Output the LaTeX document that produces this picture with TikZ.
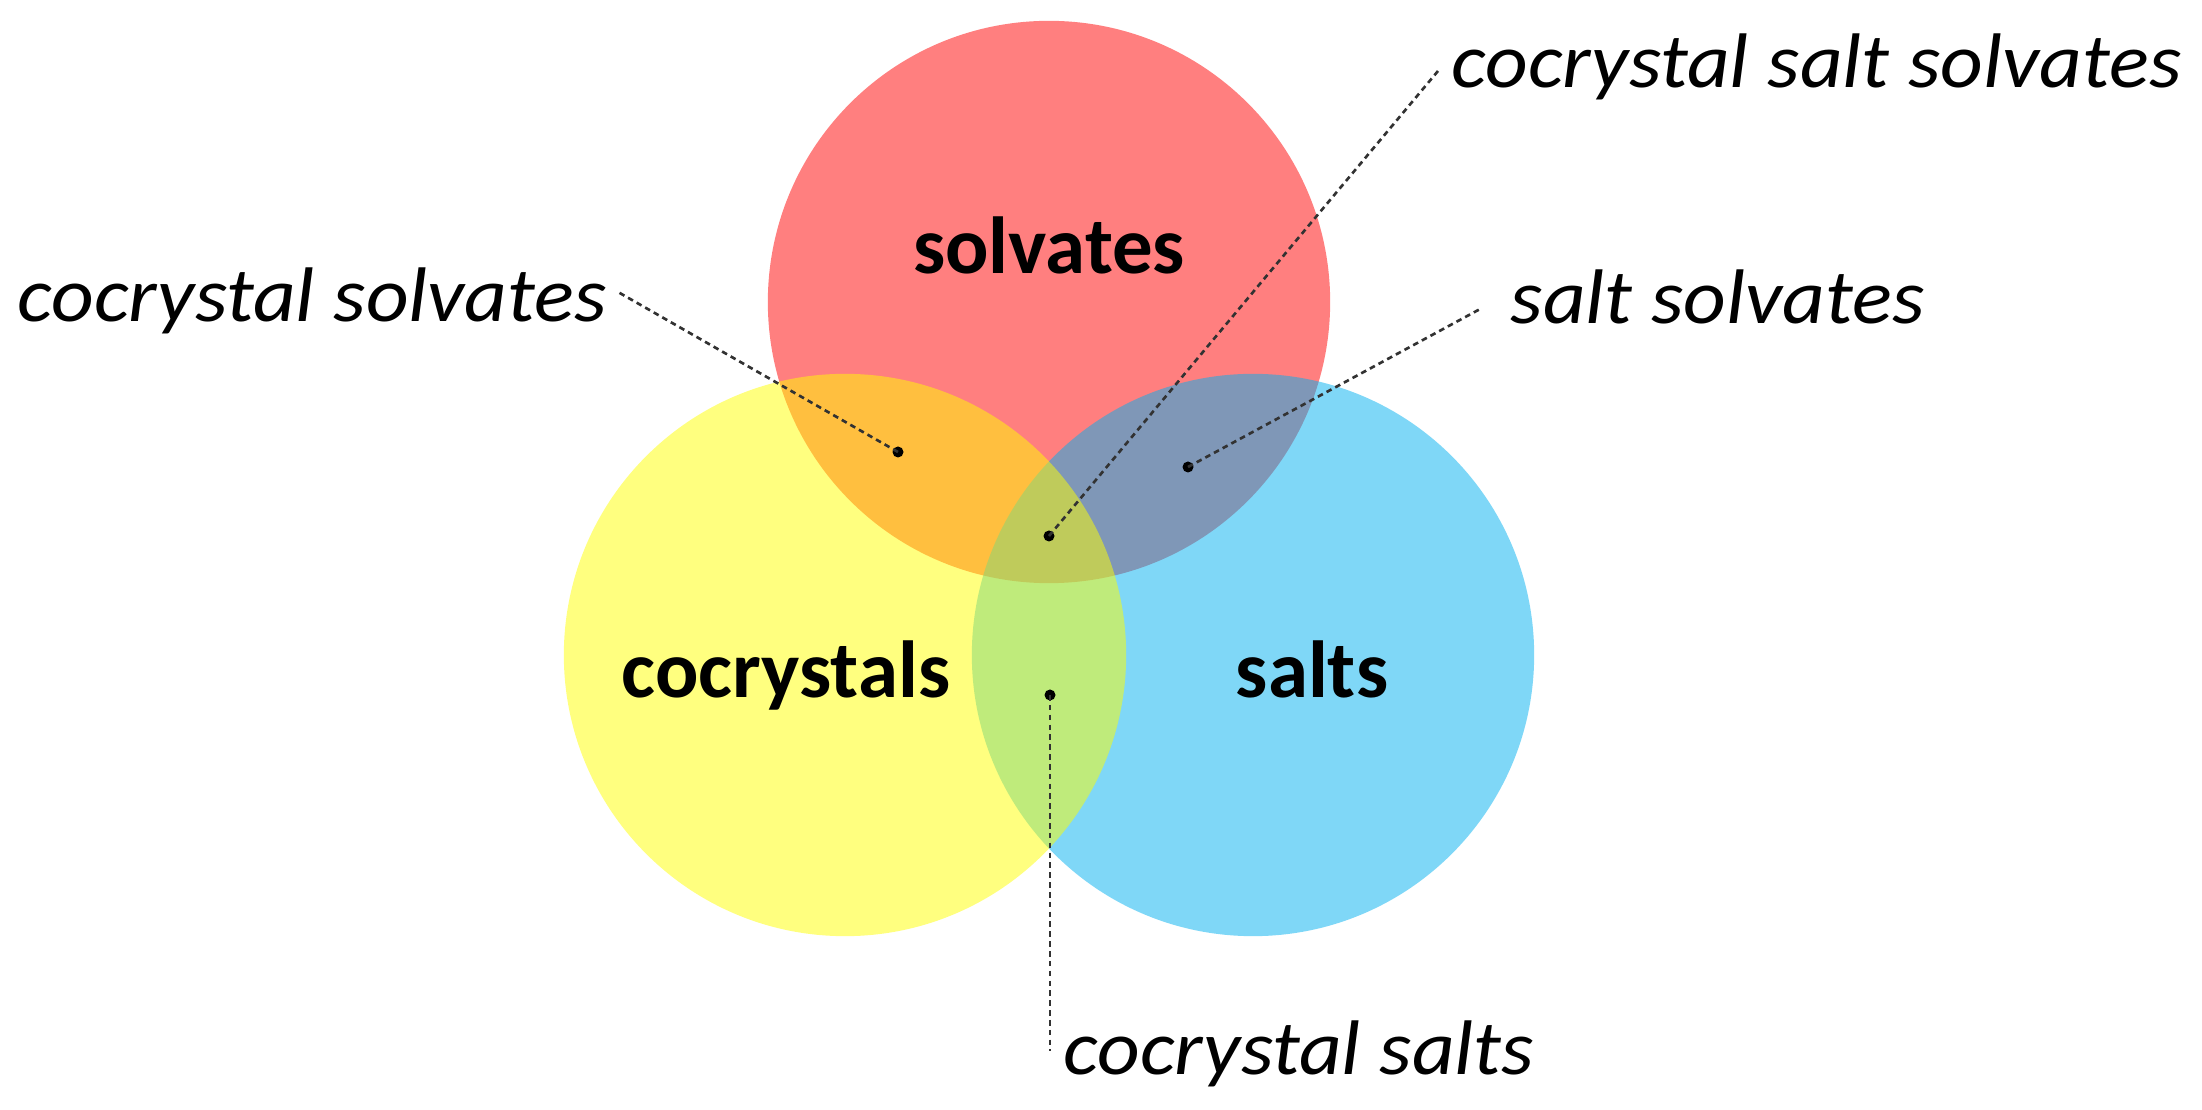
\documentclass[tikz,border=0pt]{standalone}
\usepackage{fontspec}
\setmainfont{Carlito}
\newfontfamily\labfont[FakeStretch=1.075]{Carlito}
\definecolor{cred}{RGB}{255,0,0}
\definecolor{cblue}{RGB}{0,176,240}
\definecolor{cyell}{RGB}{255,255,0}
\definecolor{leadc}{RGB}{50,50,50}
\begin{document}
\begin{tikzpicture}[x=0.01cm,y=-0.01cm,
  setcircle/.style={fill opacity=0.5, draw=none},
  biglabel/.style={font=\fontsize{23}{27}\selectfont\bfseries, inner sep=0pt, anchor=base},
  smalllabel/.style={font=\labfont\fontsize{22}{26}\selectfont\itshape, inner sep=0pt},
  leader/.style={draw=leadc, line width=0.75pt, dash pattern=on 1.6pt off 1.2pt},
  dotmark/.style={circle, fill=black, inner sep=0pt, minimum size=0.11cm}]
\fill[white] (0,0) rectangle (2202,1110);
\useasboundingbox (0,0) rectangle (2202,1110);
% circles
\fill[cred, setcircle] (1049,302) circle[radius=2.81cm];
\fill[cblue, setcircle] (1253,655) circle[radius=2.81cm];
\fill[cyell, setcircle] (845,655) circle[radius=2.81cm];
% main labels
\node[biglabel] (solv) at (1049,274) {solvates};
\node[biglabel] (cocr) at (786,698) {cocrystals};
\node[biglabel] (salt) at (1312,698) {salts};
% outer labels
\node[smalllabel, anchor=base west] (ls) at (17,322) {cocrystal solvates};
\node[smalllabel, anchor=base west] (lss) at (1510,324) {salt solvates};
\node[smalllabel, anchor=base west] (lcss) at (1451,88) {cocrystal salt solvates};
\node[smalllabel, anchor=base west] (lcs) at (1063,1075) {cocrystal salts};
% dots
\node[dotmark] (d1) at (898,452) {};
\node[dotmark] (d2) at (1188,467) {};
\node[dotmark] (d3) at (1049,536) {};
\node[dotmark] (d4) at (1050,695) {};
% leader ends
\coordinate (e1) at (618,292);
\coordinate (e2) at (1482,308);
\coordinate (e3) at (1438,71);
\coordinate (e4) at (1050,1051);
\draw[leader] (d1.center) -- (e1);
\draw[leader] (d2.center) -- (e2);
\draw[leader] (d3.center) -- (e3);
\draw[leader] (d4.center) -- (e4);
\end{tikzpicture}
\end{document}
